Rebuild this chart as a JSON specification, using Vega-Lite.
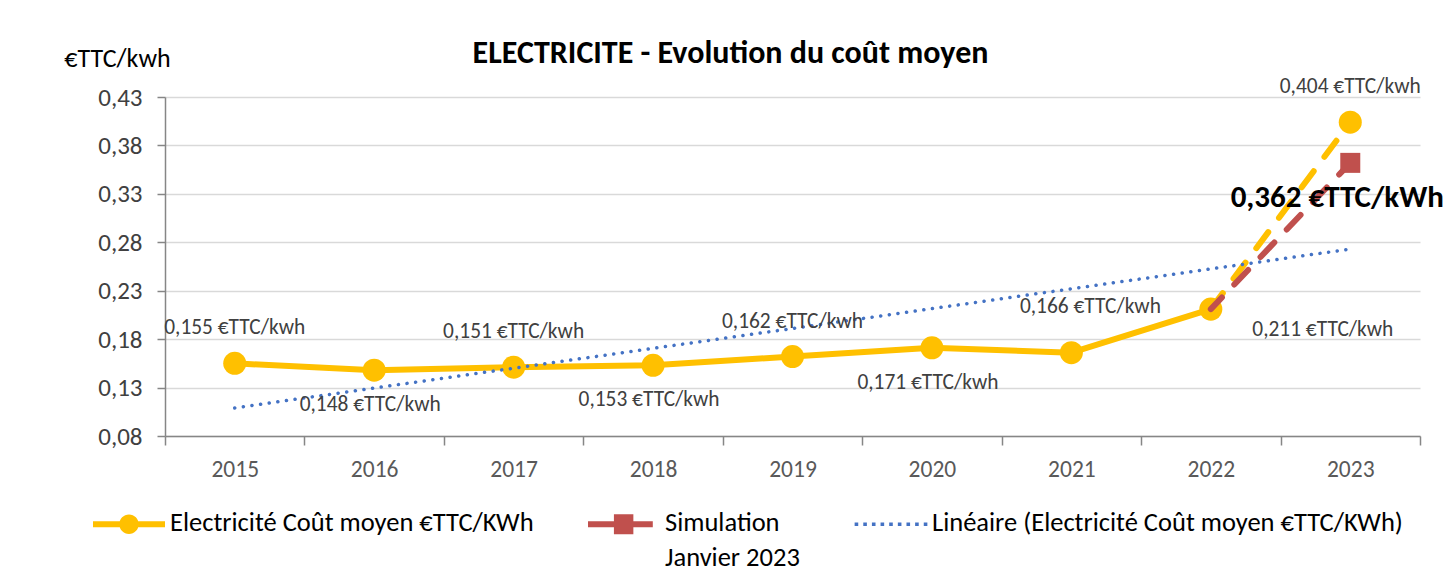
{
  "$schema": "https://vega.github.io/schema/vega-lite/v6.json",
  "width": 1255,
  "height": 339,
  "autosize": {"type": "none"},
  "padding": {"left": 165, "top": 97, "right": 26, "bottom": 145},
  "background": "white",
  "config": {
    "font": "Carlito, Lato, sans-serif",
    "view": {"stroke": null}
  },
  "title": {
    "text": "ELECTRICITE - Evolution du coût moyen",
    "fontSize": 32,
    "fontWeight": "bold",
    "color": "#000000",
    "anchor": "middle",
    "dx": -62,
    "dy": 35,
    "offset": 10
  },
  "datasets": {
    "solid": [
      {"year": "2015", "value": 0.155, "serie": "Electricité Coût moyen €TTC/KWh"},
      {"year": "2016", "value": 0.148, "serie": "Electricité Coût moyen €TTC/KWh"},
      {"year": "2017", "value": 0.151, "serie": "Electricité Coût moyen €TTC/KWh"},
      {"year": "2018", "value": 0.153, "serie": "Electricité Coût moyen €TTC/KWh"},
      {"year": "2019", "value": 0.162, "serie": "Electricité Coût moyen €TTC/KWh"},
      {"year": "2020", "value": 0.171, "serie": "Electricité Coût moyen €TTC/KWh"},
      {"year": "2021", "value": 0.166, "serie": "Electricité Coût moyen €TTC/KWh"},
      {"year": "2022", "value": 0.211, "serie": "Electricité Coût moyen €TTC/KWh"}
    ],
    "dashed": [
      {"year": "2022", "value": 0.211, "serie": "Electricité Coût moyen €TTC/KWh"},
      {"year": "2023", "value": 0.404, "serie": "Electricité Coût moyen €TTC/KWh"}
    ],
    "points": [
      {"year": "2015", "value": 0.155},
      {"year": "2016", "value": 0.148},
      {"year": "2017", "value": 0.151},
      {"year": "2018", "value": 0.153},
      {"year": "2019", "value": 0.162},
      {"year": "2020", "value": 0.171},
      {"year": "2021", "value": 0.166},
      {"year": "2022", "value": 0.211},
      {"year": "2023", "value": 0.404}
    ],
    "simulation": [
      {"year": "2022", "value": 0.211, "serie": "Simulation Janvier 2023"},
      {"year": "2023", "value": 0.362, "serie": "Simulation Janvier 2023"}
    ],
    "simpoint": [
      {"year": "2023", "value": 0.362}
    ],
    "trend": [
      {"year": "2015", "value": 0.109, "serie": "Linéaire (Electricité Coût moyen €TTC/KWh)"},
      {"year": "2023", "value": 0.273, "serie": "Linéaire (Electricité Coût moyen €TTC/KWh)"}
    ],
    "labels": [
      {"year": "2015", "value": 0.155, "label": "0,155 €TTC/kwh", "pos": "above"},
      {"year": "2016", "value": 0.148, "label": "0,148 €TTC/kwh", "pos": "below"},
      {"year": "2017", "value": 0.151, "label": "0,151 €TTC/kwh", "pos": "above"},
      {"year": "2018", "value": 0.153, "label": "0,153 €TTC/kwh", "pos": "below"},
      {"year": "2019", "value": 0.162, "label": "0,162 €TTC/kwh", "pos": "above"},
      {"year": "2020", "value": 0.171, "label": "0,171 €TTC/kwh", "pos": "below"},
      {"year": "2021", "value": 0.166, "label": "0,166 €TTC/kwh", "pos": "high"},
      {"year": "2022", "value": 0.211, "label": "0,211 €TTC/kwh", "pos": "right"},
      {"year": "2023", "value": 0.404, "label": "0,404 €TTC/kwh", "pos": "above"}
    ],
    "simlabel": [
      {"year": "2023", "value": 0.362, "label": "0,362 €TTC/kWh"}
    ]
  },
  "encoding": {
    "x": {
      "field": "year",
      "type": "ordinal",
      "scale": {"type": "band", "paddingInner": 0, "paddingOuter": 0, "domain": ["2015","2016","2017","2018","2019","2020","2021","2022","2023"]},
      "axis": {
        "title": null,
        "labelAngle": 0,
        "labelFontSize": 23.5,
        "labelColor": "#595959",
        "labelPadding": 12,
        "tickBand": "extent",
        "tickSize": 9,
        "tickColor": "#868686",
        "tickWidth": 1.5,
        "domainColor": "#868686",
        "domainWidth": 1.5,
        "grid": false
      }
    },
    "y": {
      "field": "value",
      "type": "quantitative",
      "scale": {"domain": [0.08, 0.43], "nice": false, "zero": false},
      "axis": {
        "values": [0.08, 0.13, 0.18, 0.23, 0.28, 0.33, 0.38, 0.43],
        "labelExpr": "replace(format(datum.value, '.2f'), '.', ',')",
        "labelFontSize": 25,
        "labelColor": "#404040",
        "labelPadding": 15,
        "tickSize": 8,
        "tickColor": "#868686",
        "tickWidth": 1.5,
        "domainColor": "#868686",
        "domainWidth": 1.5,
        "grid": true,
        "gridColor": "#D9D9D9",
        "gridWidth": 1.5,
        "title": "€TTC/kwh",
        "titleAngle": 0,
        "titleFontSize": 26,
        "titleFontWeight": "normal",
        "titleColor": "#000000",
        "titleX": -48,
        "titleY": -39,
        "titleAlign": "center",
        "titleBaseline": "middle"
      }
    }
  },
  "layer": [
    {
      "data": {"name": "solid"},
      "mark": {"type": "line", "strokeWidth": 6, "strokeCap": "round", "strokeJoin": "round"},
      "encoding": {
        "color": {
          "field": "serie",
          "type": "nominal",
          "scale": {
            "domain": ["Electricité Coût moyen €TTC/KWh", "Simulation Janvier 2023", "Linéaire (Electricité Coût moyen €TTC/KWh)"],
            "range": ["#FFC000", "#C0504D", "#4472C4"]
          },
          "legend": {
            "title": null,
            "orient": "none",
            "direction": "horizontal",
            "legendX": -72,
            "legendY": 391,
            "symbolSize": 5184,
            "symbolType": "circle",
            "labelFontSize": 26.5,
            "labelColor": "#000000",
            "labelLimit": 600,
            "labelOffset": 5,
            "labelBaseline": "top",
            "columnPadding": 54,
            "encode": {
              "symbols": {
                "update": {
                  "shape": {"signal": "datum.value === 'Simulation Janvier 2023' ? 'M-1,-0.083H-0.28V0.083H-1Z M0.26,-0.083H0.8V0.083H0.26Z M-0.28,-0.28H0.26V0.28H-0.28Z' : (datum.value === 'Electricité Coût moyen €TTC/KWh' ? 'M-1,-0.083H1V0.083H-1Z M-0.27,0A0.27,0.27 0 1,1 0.27,0A0.27,0.27 0 1,1 -0.27,0Z' : 'M-1.01,-0.05h0.1v0.1h-0.1Z M-0.77,-0.05h0.1v0.1h-0.1Z M-0.53,-0.05h0.1v0.1h-0.1Z M-0.29,-0.05h0.1v0.1h-0.1Z M-0.05,-0.05h0.1v0.1h-0.1Z M0.19,-0.05h0.1v0.1h-0.1Z M0.43,-0.05h0.1v0.1h-0.1Z M0.67,-0.05h0.1v0.1h-0.1Z M0.91,-0.05h0.1v0.1h-0.1Z')"},
                  "fill": {"scale": "color", "field": "value"},
                  "stroke": {"value": "transparent"},
                  "strokeWidth": {"value": 0},
                  "opacity": {"value": 1},
                  "size": {"value": 5184}
                }
              },
              "labels": {
                "update": {
                  "text": {"signal": "datum.value === 'Simulation Janvier 2023' ? ['Simulation', 'Janvier 2023'] : [datum.value, ' ']"},
                  "dy": {"value": -14},
                  "lineHeight": {"value": 35}
                }
              }
            }
          }
        }
      }
    },
    {
      "data": {"name": "dashed"},
      "mark": {"type": "line", "strokeWidth": 6, "strokeCap": "round", "strokeDash": [20, 18], "color": "#FFC000"},
      "encoding": {}
    },
    {
      "data": {"name": "points"},
      "mark": {"type": "point", "shape": "circle", "filled": true, "size": 530, "color": "#FFC000", "opacity": 1},
      "encoding": {}
    },
    {
      "data": {"name": "simulation"},
      "mark": {"type": "line", "strokeWidth": 6, "strokeCap": "round", "strokeDash": [20, 18], "strokeDashOffset": 4},
      "encoding": {
        "color": {"field": "serie", "type": "nominal"}
      }
    },
    {
      "data": {"name": "simpoint"},
      "mark": {"type": "point", "shape": "square", "filled": true, "size": 400, "color": "#C0504D", "opacity": 1},
      "encoding": {}
    },
    {
      "data": {"name": "trend"},
      "mark": {"type": "line", "strokeWidth": 3.5, "strokeCap": "round", "strokeDash": [0.1, 8.6]},
      "encoding": {
        "color": {"field": "serie", "type": "nominal"}
      }
    },
    {
      "data": {"name": "labels"},
      "transform": [{"filter": "datum.pos === 'above'"}],
      "mark": {"type": "text", "fontSize": 21.4, "color": "#404040", "dy": -35},
      "encoding": {"text": {"field": "label"}}
    },
    {
      "data": {"name": "labels"},
      "transform": [{"filter": "datum.pos === 'below'"}],
      "mark": {"type": "text", "fontSize": 21.4, "color": "#404040", "dy": 35, "dx": -4},
      "encoding": {"text": {"field": "label"}}
    },
    {
      "data": {"name": "labels"},
      "transform": [{"filter": "datum.pos === 'high'"}],
      "mark": {"type": "text", "fontSize": 21.4, "color": "#404040", "dy": -46, "dx": 19},
      "encoding": {"text": {"field": "label"}}
    },
    {
      "data": {"name": "labels"},
      "transform": [{"filter": "datum.pos === 'right'"}],
      "mark": {"type": "text", "fontSize": 21.4, "color": "#404040", "dy": 21, "dx": 112},
      "encoding": {"text": {"field": "label"}}
    },
    {
      "data": {"name": "simlabel"},
      "mark": {"type": "text", "fontSize": 31, "fontWeight": "bold", "color": "#000000", "dy": 35, "dx": -13},
      "encoding": {"text": {"field": "label"}}
    }
  ]
}
